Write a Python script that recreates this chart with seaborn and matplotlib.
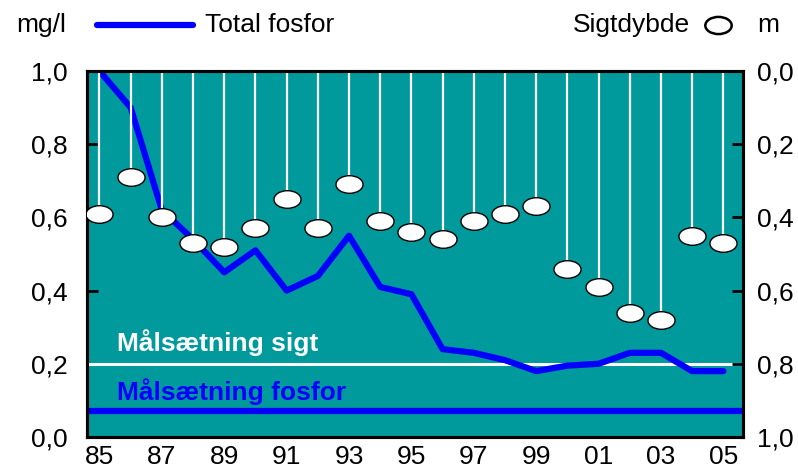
import numpy as np
import pandas as pd
import matplotlib.pyplot as plt
import seaborn as sns
from matplotlib.path import Path
from matplotlib.lines import Line2D

sns.set_style('white')
plt.rcParams['font.family'] = ['Liberation Sans', 'DejaVu Sans']
plt.rcParams.update({'text.color': 'black', 'xtick.color': 'black',
                     'ytick.color': 'black', 'axes.labelcolor': 'black'})

# data
years = list(range(1985, 2006))
total_fosfor = [1.00, 0.90, 0.62, 0.54, 0.45, 0.51, 0.40, 0.44, 0.55, 0.41, 0.39,
                0.24, 0.23, 0.21, 0.18, 0.195, 0.20, 0.23, 0.23, 0.18, 0.18]
sigtdybde = [0.39, 0.29, 0.40, 0.47, 0.48, 0.43, 0.35, 0.43, 0.31, 0.41, 0.44,
             0.46, 0.41, 0.39, 0.37, 0.54, 0.59, 0.66, 0.68, 0.45, 0.47]
maal_fosfor = 0.07
maal_sigt = 0.8
year_labels = ['85', '87', '89', '91', '93', '95', '97', '99', '01', '03', '05']
y_left_labels = ['0,0', '0,2', '0,4', '0,6', '0,8', '1,0']
y_right_labels = ['0,0', '0,2', '0,4', '0,6', '0,8', '1,0']

df = pd.DataFrame({'year': years, 'fosfor': total_fosfor, 'sigt': sigtdybde})

teal = '#00999C'
blue = '#0000FF'
fs = 19

# flat ellipse marker
circ = Path.unit_circle()
ellipse = Path(circ.vertices * np.array([1.0, 0.65]), circ.codes)

fig = plt.figure(figsize=(7.98, 4.72), dpi=100)
ax = fig.add_axes([87/798, 1-437/472, (743-87)/798, (437-71)/472])
ax.set_facecolor(teal)
ax2 = ax.twinx()

# targets
ax.axhline(1 - maal_sigt, color='white', lw=2.2, zorder=2)
ax.axhline(maal_fosfor, color=blue, lw=4.5, zorder=2)
ax.text(1985.55, 0.257, 'Målsætning sigt', color='white', fontsize=fs,
        fontweight='bold', va='center', ha='left')
ax.text(1985.55, 0.123, 'Målsætning fosfor', color=blue, fontsize=fs,
        fontweight='bold', va='center', ha='left')

sns.lineplot(data=df, x='year', y='fosfor', ax=ax, color=blue, lw=4.5,
             zorder=3, legend=False)

# secchi depth, hanging from the top
ax2.vlines(df['year'], 0, df['sigt'], color='white', lw=1.6, zorder=2)
sns.scatterplot(data=df, x='year', y='sigt', ax=ax2, marker=ellipse, s=380,
                color='white', edgecolor='black', linewidth=1, zorder=3,
                legend=False)

ax.set_xlim(1984.6, 2005.63)
ax.set_ylim(0, 1)
ax2.set_ylim(1, 0)

ax.set_yticks(np.arange(0, 1.01, 0.2))
ax.set_yticklabels(y_left_labels)
ax2.set_yticks(np.arange(0, 1.01, 0.2))
ax2.set_yticklabels(y_right_labels)

ax.set_xticks(np.arange(1985.5, 2005, 1.0))
ax.set_xticklabels([])
ax.set_xticks(np.arange(1985, 2006, 2), minor=True)
ax.set_xticklabels(year_labels, minor=True)
ax.tick_params(axis='x', which='major', direction='in', length=8, width=2)
ax.tick_params(axis='x', which='minor', length=0, pad=6, labelsize=fs)
ax.tick_params(axis='y', direction='in', length=8, width=2, pad=14,
               labelsize=fs, left=True)
ax2.tick_params(axis='y', direction='in', length=8, width=2, pad=10,
                labelsize=fs, right=True)

for a in (ax, ax2):
    a.set_xlabel('')
    a.set_ylabel('')
    for s in a.spines.values():
        s.set_visible(True)
        s.set_color('black')
        s.set_linewidth(2.2)

# header legend
yh = 1 - 25/472
fig.text(16/798, yh, 'mg/l', fontsize=fs, va='center', ha='left')
fig.add_artist(Line2D([97/798, 193/798], [yh, yh], color=blue, lw=4.5,
                      solid_capstyle='round'))
fig.text(205/798, yh, 'Total fosfor', fontsize=fs, va='center', ha='left')
fig.text(690/798, yh, 'Sigtdybde', fontsize=fs, va='center', ha='right')
fig.add_artist(Line2D([718/798], [yh], marker=ellipse, markersize=19,
                      markerfacecolor='white', markeredgecolor='black',
                      markeredgewidth=1.8, linestyle='none'))
fig.text(757/798, yh, 'm', fontsize=fs, va='center', ha='left')

plt.savefig('out.png', dpi=100)
